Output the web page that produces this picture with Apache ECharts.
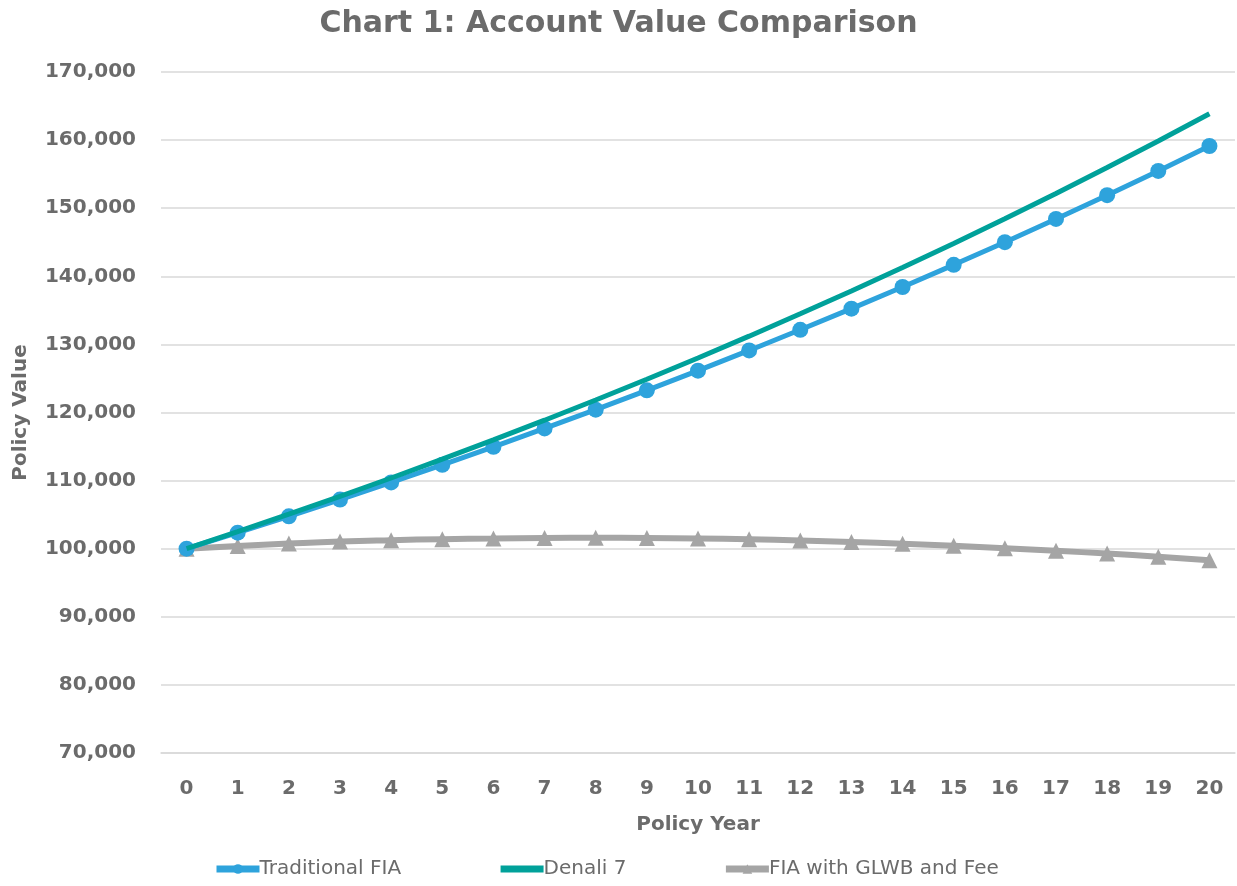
<!DOCTYPE html>
<html>
    <head>
        <meta charset="utf-8">
        <script src="https://cdn.jsdelivr.net/npm/echarts@6/dist/echarts.min.js"></script>
        <style>
            html, body { margin: 0; padding: 0; background: #fff; }
            #main { width: 1237px; height: 886px; }
        </style>
    </head>
    <body>
        <div id="main"></div>
        <script>
            var years = ['0','1','2','3','4','5','6','7','8','9','10','11','12','13','14','15','16','17','18','19','20'];

            var traditionalFia = [100000, 102350, 104755, 107217, 109737, 112316, 114955, 117656, 120421, 123251,
                126148, 129112, 132146, 135252, 138430, 141683, 145013, 148421, 151909, 155479, 159132];

            var denali7 = [100000, 102500, 105063, 107689, 110381, 113141, 115969, 118869, 121840, 124886,
                128008, 131209, 134489, 137851, 141297, 144830, 148451, 152162, 155966, 159865, 163862];

            var glwbFee = [100000, 100400, 100750, 101050, 101250, 101400, 101500, 101580, 101600, 101580,
                101500, 101380, 101200, 100980, 100720, 100420, 100080, 99700, 99280, 98820, 98300];

            var textColor = '#6b6b6b';
            var font = '"DejaVu Sans", sans-serif';

            var chart = echarts.init(document.getElementById('main'));

            var option = {
                animation: false,
                title: {
                    text: 'Chart 1: Account Value Comparison',
                    left: 'center',
                    top: 4,
                    textStyle: { color: textColor, fontSize: 30, fontWeight: 'bold', fontFamily: font }
                },
                legend: {
                    bottom: 2,
                    left: 208,
                    itemGap: 96,
                    itemWidth: 43,
                    itemHeight: 12,
                    lineStyle: { width: 7 },
                    textStyle: { color: textColor, fontSize: 20, fontFamily: font, padding: [0, 0, 0, -5] },
                    data: [
                        'Traditional FIA',
                        { name: 'Denali 7', itemStyle: { opacity: 0 } },
                        'FIA with GLWB and Fee'
                    ]
                },
                grid: { left: 161, right: 2, top: 72, bottom: 133, outerBoundsMode: 'none' },
                xAxis: {
                    type: 'category',
                    data: years,
                    name: 'Policy Year',
                    nameLocation: 'middle',
                    nameGap: 62,
                    nameTextStyle: { color: textColor, fontSize: 20, fontWeight: 'bold', fontFamily: font },
                    axisLine: { lineStyle: { color: '#d9d9d9', width: 1.5 } },
                    axisTick: { show: false },
                    axisLabel: { color: textColor, fontSize: 20, fontWeight: 'bold', fontFamily: font, margin: 26 }
                },
                yAxis: {
                    type: 'value',
                    min: 70000,
                    max: 170000,
                    interval: 10000,
                    name: 'Policy Value',
                    nameLocation: 'middle',
                    nameGap: 130,
                    nameTextStyle: { color: textColor, fontSize: 20, fontWeight: 'bold', fontFamily: font },
                    axisLine: { show: false },
                    axisTick: { show: false },
                    splitLine: { lineStyle: { color: '#d9d9d9', width: 1.5 } },
                    axisLabel: {
                        color: textColor, fontSize: 20, fontWeight: 'bold', fontFamily: font, margin: 25,
                        formatter: function (v) { return v.toLocaleString('en-US'); }
                    }
                },
                series: [{
                    name: 'Traditional FIA',
                    type: 'line',
                    data: traditionalFia,
                    symbol: 'circle',
                    symbolSize: 16,
                    lineStyle: { color: '#2ea3dc', width: 5 },
                    itemStyle: { color: '#2ea3dc' },
                    z: 3
                }, {
                    name: 'Denali 7',
                    type: 'line',
                    data: denali7,
                    symbol: 'none',
                    lineStyle: { color: '#00a19a', width: 5 },
                    itemStyle: { color: '#00a19a' },
                    z: 4
                }, {
                    name: 'FIA with GLWB and Fee',
                    type: 'line',
                    data: glwbFee,
                    smooth: true,
                    symbol: 'triangle',
                    symbolSize: 16,
                    lineStyle: { color: '#a5a5a5', width: 6 },
                    itemStyle: { color: '#a5a5a5' },
                    z: 2
                }]
            };

            chart.setOption(option);
        </script>
    </body>
</html>
